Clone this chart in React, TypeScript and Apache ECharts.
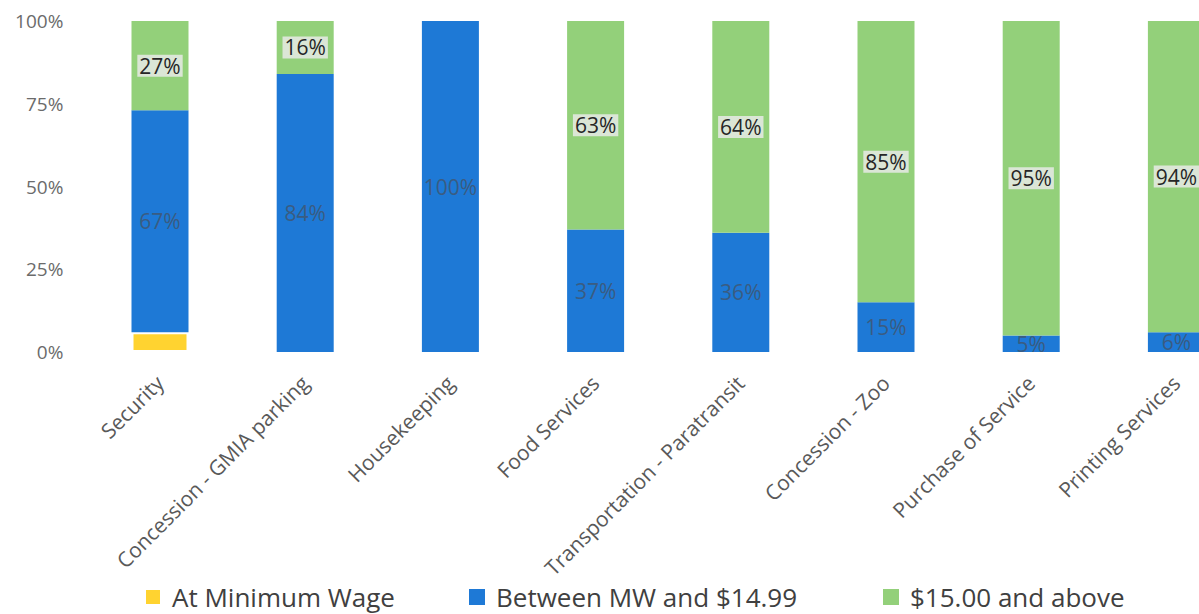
import React, { useEffect, useRef } from "react";
import * as echarts from "echarts";

const categories = [
  "Security",
  "Concession - GMIA parking",
  "Housekeeping",
  "Food Services",
  "Transportation - Paratransit",
  "Concession - Zoo",
  "Purchase of Service",
  "Printing Services",
];
const atMinimumWage = [6, 0, 0, 0, 0, 0, 0, 0];
const betweenMW = [67, 84, 100, 37, 36, 15, 5, 6];
const fifteenAbove = [27, 16, 0, 63, 64, 85, 95, 94];
const yTicks = [0, 25, 50, 75, 100];

const FONT = "'Open Sans', sans-serif";

const dropZeros = (arr: number[]) => arr.map((v) => (v === 0 ? "-" : v));

export default function App() {
  const ref = useRef<HTMLDivElement>(null);
  useEffect(() => {
    if (!ref.current) return;
    const chart = echarts.init(ref.current, null, { renderer: "svg" });
    const legendBase = {
      orient: "horizontal",
      top: 583,
      padding: 0,
      itemWidth: 16,
      itemHeight: 16,
      itemGap: 0,
      icon: "rect",
      textStyle: {
        fontFamily: FONT,
        fontSize: 26,
        lineHeight: 28,
        color: "#404040",
        padding: [0, 0, 0, 6],
      },
    };
    chart.setOption({
      animation: false,
      backgroundColor: "#ffffff",
      grid: {
        left: 87.4,
        width: 1161.6,
        top: 21,
        bottom: 262,
        outerBoundsMode: "none",
        containLabel: false,
      },
      legend: [
        { ...legendBase, left: 144, data: ["At Minimum Wage"] },
        { ...legendBase, left: 469, data: ["Between MW and $14.99"] },
        { ...legendBase, left: 883, data: ["$15.00 and above"] },
      ],
      xAxis: {
        type: "category",
        data: categories,
        axisLine: { show: false },
        axisTick: { show: false },
        axisLabel: {
          rotate: 45,
          interval: 0,
          margin: 12,
          verticalAlign: "top",
          padding: [0, 11, 0, 0],
          fontFamily: FONT,
          fontSize: 21,
          color: "#595959",
        },
      },
      yAxis: {
        type: "value",
        min: yTicks[0],
        max: yTicks[yTicks.length - 1],
        interval: 25,
        axisLine: { show: false },
        axisTick: { show: false },
        splitLine: { show: false },
        axisLabel: {
          formatter: "{value}%",
          margin: 24,
          fontFamily: FONT,
          fontSize: 19,
          color: "#6b6b6b",
        },
      },
      series: [
        {
          name: "At Minimum Wage",
          type: "bar",
          stack: "total",
          barWidth: 57,
          data: dropZeros(atMinimumWage),
          itemStyle: { color: "#FFD330", borderColor: "#ffffff", borderWidth: 2 },
          label: { show: false },
        },
        {
          name: "Between MW and $14.99",
          type: "bar",
          stack: "total",
          barWidth: 57,
          data: dropZeros(betweenMW),
          itemStyle: { color: "#1E79D6" },
          label: {
            show: true,
            position: "inside",
            formatter: "{c}%",
            fontFamily: FONT,
            fontSize: 21,
            color: "#3A5C82",
          },
        },
        {
          name: "$15.00 and above",
          type: "bar",
          stack: "total",
          barWidth: 57,
          data: dropZeros(fifteenAbove),
          itemStyle: { color: "#93D07A" },
          label: {
            show: true,
            position: "inside",
            formatter: "{c}%",
            fontFamily: FONT,
            fontSize: 21,
            color: "#262626",
            backgroundColor: "rgba(232,234,230,0.85)",
            padding: [1, 2, 0, 2],
          },
        },
      ],
    });
    return () => chart.dispose();
  }, []);
  return (
    <div
      ref={ref}
      style={{ position: "absolute", left: 0, top: 0, width: 1199, height: 614 }}
    />
  );
}
